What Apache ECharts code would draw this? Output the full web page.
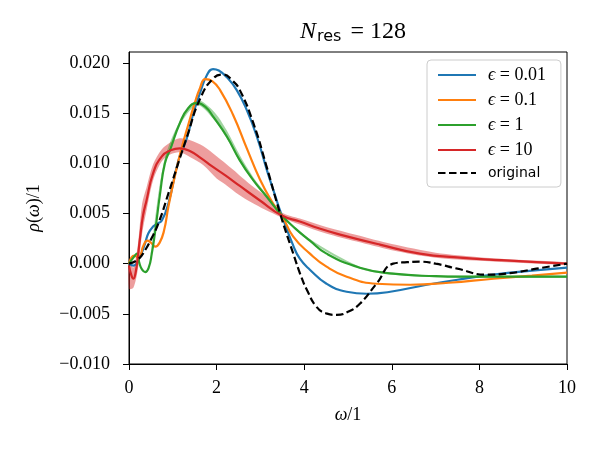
<!DOCTYPE html>
<html>
<head>
<meta charset="utf-8">
<script src="https://cdn.jsdelivr.net/npm/echarts@6/dist/echarts.min.js"></script>
</head>
<body style="margin:0">
<div id="container" style="width:600px;height:450px;"></div>
<script type="text/javascript">
// values in units of 1e-3
var origX = [0, 0.2, 0.37, 0.5, 0.67, 0.9, 1.16, 1.32, 1.62, 1.93, 2.15, 2.35, 2.53, 2.84, 3.14, 3.45, 3.75, 3.94, 4.06, 4.28, 4.5, 4.74, 5.0, 5.27, 5.65, 6.03, 6.35, 6.64, 7.0, 7.5, 8.17, 8.7, 9.3, 10];
var origY = [0, 0.4, 1.36, 2.4, 4.0, 7.0, 10.5, 12.6, 16.4, 18.5, 18.85, 18.3, 17.3, 14.0, 9.7, 5.0, 1.0, -1.4, -2.6, -4.3, -4.95, -5.1, -4.8, -4.0, -2.0, 0.0, 0.15, 0.2, 0.0, -0.5, -1.1, -0.95, -0.5, 0.0];

var blueX = [0, 0.1, 0.25, 0.35, 0.44, 0.55, 0.65, 0.75, 0.9, 1.13, 1.32, 1.47, 1.62, 1.78, 1.92, 2.05, 2.23, 2.46, 2.69, 2.92, 3.15, 3.32, 3.49, 3.75, 3.9, 4.13, 4.51, 4.97, 5.43, 5.9, 6.8, 7.5, 8.32, 9.2, 10];
var blueY = [0, -0.2, 0.7, 1.8, 3.0, 3.7, 4.0, 4.3, 6.0, 10.3, 12.5, 15.0, 17.0, 18.8, 19.4, 19.25, 18.6, 17.3, 15.3, 12.65, 9.3, 7.0, 4.8, 1.8, 0.5, -0.6, -2.0, -2.8, -3.0, -2.85, -2.1, -1.6, -1.1, -0.7, -0.4];

var orangeX = [0, 0.12, 0.22, 0.33, 0.42, 0.5, 0.6, 0.7, 0.8, 0.9, 1.05, 1.2, 1.35, 1.5, 1.62, 1.74, 1.9, 2.08, 2.38, 2.69, 2.99, 3.29, 3.49, 3.75, 4.13, 4.51, 4.97, 5.65, 6.42, 7.3, 8.32, 9.2, 10];
var orangeY = [0, 0.8, 0.6, 1.8, 2.3, 2.1, 1.7, 2.1, 3.3, 5.7, 8.8, 11.5, 13.8, 16.0, 17.5, 18.4, 18.2, 17.3, 14.8, 11.5, 8.4, 6.0, 4.8, 2.7, 1.0, -0.3, -1.3, -2.0, -2.1, -1.9, -1.5, -1.2, -0.9];

var greenX = [0, 0.1, 0.18, 0.24, 0.3, 0.37, 0.45, 0.52, 0.59, 0.71, 0.82, 0.95, 1.16, 1.35, 1.55, 1.75, 1.93, 2.23, 2.53, 2.84, 3.14, 3.49, 3.8, 4.13, 4.51, 5.27, 6.03, 7.0, 7.56, 8.5, 10];
var greenY = [0, 0.6, 1.0, 0.0, -0.6, -0.85, -0.4, 1.0, 3.0, 7.0, 10.0, 11.5, 14.0, 15.5, 16.0, 15.6, 14.6, 12.7, 10.3, 8.3, 6.7, 4.8, 3.5, 2.3, 1.0, -0.4, -1.0, -1.25, -1.3, -1.3, -1.3];

var redX = [0, 0.05, 0.1, 0.15, 0.2, 0.25, 0.32, 0.4, 0.55, 0.75, 0.95, 1.16, 1.4, 1.65, 1.9, 2.2, 2.53, 2.99, 3.49, 3.9, 4.35, 4.82, 5.73, 6.64, 7.56, 8.5, 9.3, 10];
var redY = [-0.2, -1.1, -1.5, -0.9, 0.6, 2.5, 4.8, 6.3, 9.0, 10.7, 11.3, 11.5, 11.2, 10.5, 9.7, 8.8, 7.75, 6.3, 4.8, 4.2, 3.5, 2.9, 1.9, 1.0, 0.6, 0.35, 0.15, 0.0];

// uncertainty bands
var redBandX = [0, 0.1, 0.2, 0.3, 0.4, 0.55, 0.75, 0.95, 1.16, 1.4, 1.7, 2.0, 2.2, 2.5, 2.8, 3.1, 3.49, 3.9, 4.5, 5.2, 6.0, 7.0, 8.0, 9.0, 10];
var redLow = [-2.5, -2.4, -0.6, 3.0, 5.3, 8.3, 10.2, 10.9, 11.1, 10.6, 9.8, 8.5, 7.9, 6.9, 6.1, 5.4, 4.6, 3.9, 3.0, 2.2, 1.35, 0.6, 0.3, 0.08, -0.1];
var redHigh = [0.4, -0.4, 1.8, 6.0, 7.6, 9.9, 11.4, 12.1, 12.5, 12.3, 11.7, 10.7, 10.0, 8.9, 7.8, 6.8, 5.1, 4.5, 3.65, 2.85, 1.95, 1.1, 0.65, 0.36, 0.12];

var greenBandX = [0.5, 0.8, 1.16, 1.55, 1.93, 2.23, 2.53, 2.84, 3.14, 3.49, 4.13, 5.27, 6.03, 7.0, 8.5, 10];
var greenLow = [0.9, 9.8, 13.8, 15.8, 14.4, 12.5, 10.15, 8.2, 6.6, 4.7, 2.2, -0.5, -1.1, -1.35, -1.4, -1.4];
var greenHigh = [1.2, 10.2, 14.2, 16.3, 15.2, 13.3, 10.8, 8.6, 6.9, 4.9, 2.45, -0.3, -0.9, -1.15, -1.2, -1.2];

var legendLabels = {e1: '0.01', e2: '0.1', e3: '1', e4: '10'};

function pairs(xs, ys) {
    var out = [];
    for (var i = 0; i < xs.length; i++) out.push([xs[i], ys[i] / 1000]);
    return out;
}

function band(xs, lo, hi, color) {
    var d = [];
    for (var i = 0; i < xs.length; i++) d.push([xs[i], lo[i] / 1000, hi[i] / 1000]);
    return {
        type: 'custom',
        silent: true,
        z: 1,
        data: d,
        encode: {x: 0, y: [1, 2]},
        renderItem: function (params, api) {
            if (params.dataIndex !== 0) return null;
            var pts = [];
            for (var i = 0; i < d.length; i++) pts.push(api.coord([d[i][0], d[i][2]]));
            for (var j = d.length - 1; j >= 0; j--) pts.push(api.coord([d[j][0], d[j][1]]));
            return {
                type: 'polygon',
                shape: {points: pts, smooth: 0.3},
                style: {fill: color}
            };
        }
    };
}

function line(name, xs, ys, color, dashed) {
    return {
        type: 'line',
        name: name,
        data: pairs(xs, ys),
        smooth: 0.5,
        symbol: 'none',
        z: dashed ? 4 : 3,
        lineStyle: {color: color, width: 2.2, type: dashed ? [7.5, 3.5] : 'solid'},
        itemStyle: {color: color}
    };
}

var serif = 'Liberation Serif';
var dom = document.getElementById('container');
var myChart = echarts.init(dom);
var option = {
    animation: false,
    title: {
        text: '{i|N}{s|res}{n| = 128}',
        left: 348,
        top: 14,
        textAlign: 'center',
        textStyle: {
            fontWeight: 'normal',
            rich: {
                i: {fontFamily: serif, fontStyle: 'italic', fontSize: 24, color: '#000'},
                s: {fontFamily: 'DejaVu Sans', fontSize: 16, color: '#000', padding: [10, 3, 0, 1]},
                n: {fontFamily: serif, fontSize: 24, color: '#000'}
            }
        }
    },
    grid: {left: 129, right: 33, top: 52, bottom: 86, show: true, borderColor: '#000', borderWidth: 1},
    legend: {
        orient: 'vertical',
        left: 427,
        top: 60,
        padding: [6, 15, 7, 10],
        itemWidth: 38,
        itemHeight: 12,
        itemGap: 7,
        borderColor: '#ccc',
        borderWidth: 1,
        borderRadius: 4,
        backgroundColor: '#fff',
        itemStyle: {opacity: 0},
        data: ['e1', 'e2', 'e3', 'e4', 'original'],
        formatter: function (n) {
            if (n === 'original') return '{o|original}';
            return '{e|ϵ}{t| = ' + legendLabels[n] + '}';
        },
        textStyle: {
            rich: {
                e: {fontFamily: serif, fontStyle: 'italic', fontSize: 18, color: '#000', padding: [0, 0, 0, 7]},
                t: {fontFamily: serif, fontSize: 18, color: '#000'},
                o: {fontFamily: 'DejaVu Sans', fontSize: 14, color: '#000', padding: [0, 0, 0, 7]}
            }
        }
    },
    xAxis: {
        type: 'value',
        min: 0,
        max: 10,
        interval: 2,
        name: '{i|ω}{n|/1}',
        nameLocation: 'middle',
        nameGap: 42,
        nameTextStyle: {
            rich: {
                i: {fontFamily: serif, fontStyle: 'italic', fontSize: 18, color: '#000'},
                n: {fontFamily: serif, fontSize: 18, color: '#000'}
            }
        },
        splitLine: {show: false},
        axisLine: {onZero: false, lineStyle: {color: '#000'}},
        axisTick: {length: 6, lineStyle: {color: '#000'}},
        axisLabel: {fontFamily: serif, fontSize: 18, color: '#000', margin: 15}
    },
    yAxis: {
        type: 'value',
        min: -0.01,
        max: 0.0211,
        interval: 0.005,
        name: '{i|ρ}{n|(}{i|ω}{n|)/1}',
        nameLocation: 'middle',
        nameGap: 86,
        nameRotate: 90,
        nameTextStyle: {
            rich: {
                i: {fontFamily: serif, fontStyle: 'italic', fontSize: 18, color: '#000'},
                n: {fontFamily: serif, fontSize: 18, color: '#000'}
            }
        },
        splitLine: {show: false},
        axisLine: {show: true, onZero: false, lineStyle: {color: '#000'}},
        axisTick: {length: 6, lineStyle: {color: '#000'}},
        axisLabel: {
            fontFamily: serif, fontSize: 18, color: '#000', margin: 19,
            formatter: function (v) {
                var s = Math.abs(v).toFixed(3);
                return (v < -1e-9 ? '\u2212' : '') + s;
            }
        }
    },
    series: [
        band(redBandX, redLow, redHigh, 'rgba(214,39,40,0.45)'),
        band(greenBandX, greenLow, greenHigh, 'rgba(44,160,44,0.45)'),
        line('e1', blueX, blueY, '#1f77b4', false),
        line('e2', orangeX, orangeY, '#ff7f0e', false),
        line('e3', greenX, greenY, '#2ca02c', false),
        line('e4', redX, redY, '#d62728', false),
        line('original', origX, origY, '#000000', true)
    ]
};
myChart.setOption(option);
</script>
</body>
</html>
